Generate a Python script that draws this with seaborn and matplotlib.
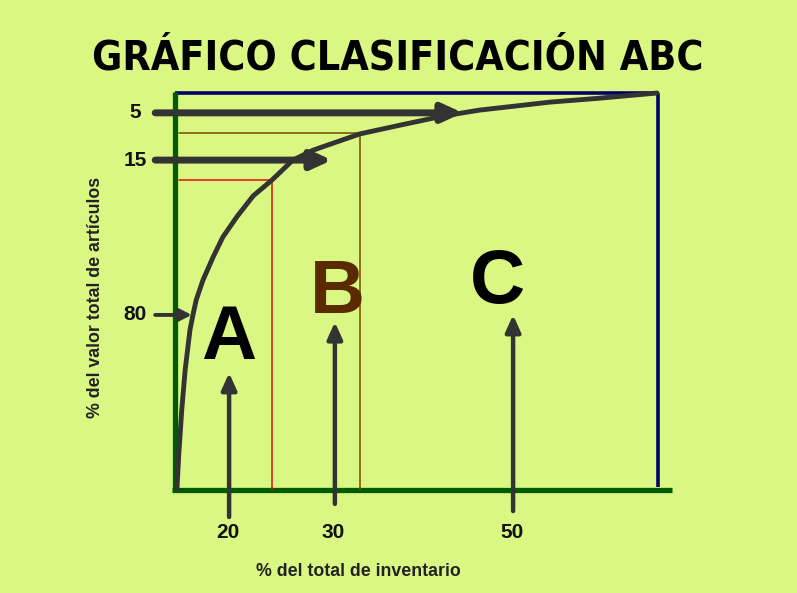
"""Gráfico de clasificación ABC (esquema) con seaborn/matplotlib."""

import matplotlib
matplotlib.use("Agg")
import matplotlib.pyplot as plt
import matplotlib.font_manager as fm
import pandas as pd
import seaborn as sns

# --- datos del esquema (coordenadas del cuadro: 0-100 en ambos ejes) ---
curve_x = [0.4, 0.8, 1.4, 2.1, 3.1, 3.8, 4.4, 5.8, 7.9, 9.9, 12.8, 16.2, 20.1,
           24.4, 28.6, 33.3, 38.3, 46.6, 55.5, 63.1, 70.4, 77.6, 88.0, 99.8]
curve_y = [0.3, 9.3, 20.2, 30.2, 40.3, 44.6, 47.9, 52.9, 58.7, 63.7, 68.8, 74.1, 78.1,
           83.1, 85.6, 87.6, 89.7, 91.9, 94.2, 95.7, 96.7, 97.7, 98.7, 100.0]

a_limit = (20.1, 78.1)      # esquina de la zona A
b_limit = (38.3, 89.9)      # esquina de la zona B

y_tick_labels = ["5", "15", "80"]
y_tick_pos = [95.0, 83.1, 44.1]
y_arrow_tip = [59.6, 32.5, 3.5]

x_tick_labels = ["20", "30", "50"]
x_tick_pos = [11.2, 33.1, 70.0]
x_arrow_tail = [-6.8, -3.5, -5.3]
x_arrow_tip = [29.5, 42.3, 44.1]

zone_labels = ["A", "B", "C"]
zone_x = [11.2, 33.7, 66.7]
zone_y = [38.0, 49.5, 51.9]
zone_colors = ["#000000", "#5a2a00", "#000000"]

TITLE = "GRÁFICO CLASIFICACIÓN ABC"
XLABEL = "% del total de inventario"
YLABEL = "% del valor total de artículos"

BG = "#dbf783"
GREEN = "#005c00"
NAVY = "#000066"
DARK = "#333333"

sns.set_theme(style="white")
fonts = fm.fontManager.ttflist
names = {f.name for f in fonts}
has_condensed = any(f.name == "DejaVu Sans" and "Condensed" in f.fname and f.weight >= 600
                    for f in fonts)
if "Liberation Sans Narrow" in names:
    NARROW, STRETCH, TITLE_SIZE = "Liberation Sans Narrow", "normal", 36
elif has_condensed:
    NARROW, STRETCH, TITLE_SIZE = "DejaVu Sans", "condensed", 29.5
else:
    NARROW, STRETCH, TITLE_SIZE = "Liberation Sans", "normal", 29.5
plt.rcParams["font.family"] = ["Liberation Sans", "DejaVu Sans"]

fig = plt.figure(figsize=(7.97, 5.93), dpi=100, facecolor=BG)
ax = fig.add_axes([175 / 797, 103 / 593, 483 / 797, 397 / 593])
ax.set_facecolor(BG)

# marco: verde a la izquierda y abajo, azul marino arriba y a la derecha
ax.plot([0, 100], [100, 100], color=NAVY, lw=2.6, clip_on=False, solid_capstyle="butt")
ax.plot([100, 100], [0.8, 100], color=NAVY, lw=2.6, clip_on=False, solid_capstyle="butt")
ax.plot([0, 0], [-0.6, 100.3], color=GREEN, lw=3.8, clip_on=False, solid_capstyle="butt")
ax.plot([-0.6, 102.9], [0, 0], color=GREEN, lw=3.8, clip_on=False, solid_capstyle="butt")

# líneas guía de las zonas A y B
ax.plot([0.8, a_limit[0], a_limit[0]], [a_limit[1], a_limit[1], 0], color="#e01010", lw=1.1)
ax.plot([0.8, b_limit[0], b_limit[0]], [b_limit[1], b_limit[1], 0], color="#7a4a00", lw=1.1)

# curva ABC
df = pd.DataFrame({"x": curve_x, "y": curve_y})
sns.lineplot(data=df, x="x", y="y", sort=False, color=DARK, lw=3.5, ax=ax, clip_on=False,
             solid_joinstyle="round", solid_capstyle="round")
ax.set_xlim(0, 100)
ax.set_ylim(0, 100)
ax.axis("off")

# flechas horizontales y etiquetas del eje vertical
for lab, yy, tip in zip(y_tick_labels, y_tick_pos, y_arrow_tip):
    big = lab != "80"
    style = "-|>,head_length=12,head_width=5.5" if big else "-|>,head_length=7,head_width=3.5"
    ax.annotate("", xy=(tip, yy), xytext=(-4.1, yy), annotation_clip=False,
                arrowprops=dict(arrowstyle=style, color=DARK, lw=5.0 if big else 2.8,
                                mutation_scale=1, shrinkA=0, shrinkB=0))
    ax.text(-8.3, yy, lab, ha="center", va="center", fontsize=15, fontweight="bold",
            color="#111111", clip_on=False)

# flechas verticales y etiquetas del eje horizontal
for lab, xx, tail, tip in zip(x_tick_labels, x_tick_pos, x_arrow_tail, x_arrow_tip):
    ax.annotate("", xy=(xx, tip), xytext=(xx, tail), annotation_clip=False,
                arrowprops=dict(arrowstyle="-|>,head_length=10,head_width=4.5", color=DARK,
                                lw=3.2, mutation_scale=1, shrinkA=0, shrinkB=0))
    ax.text(xx - 0.3, -10.8, lab, ha="center", va="center", fontsize=15, fontweight="bold",
            color="#111111", clip_on=False)

# letras de las zonas
for lab, xx, yy, col in zip(zone_labels, zone_x, zone_y, zone_colors):
    ax.text(xx, yy, lab, ha="center", va="center", fontsize=55, fontweight="bold", color=col)

fig.text(398 / 797, 1 - 59 / 593, TITLE, ha="center", va="center", fontsize=TITLE_SIZE,
         fontweight="bold", color="#000000", family=[NARROW, "DejaVu Sans"],
         fontstretch=STRETCH)
fig.text(358 / 797, 1 - 572 / 593, XLABEL, ha="center", va="center", fontsize=12.8,
         fontweight="bold", color="#222222")
fig.text(95 / 797, 1 - 297 / 593, YLABEL, ha="center", va="center", fontsize=12.8,
         fontweight="bold", color="#222222", rotation=90)

fig.savefig("out.png", dpi=100, facecolor=BG)
plt.close(fig)
